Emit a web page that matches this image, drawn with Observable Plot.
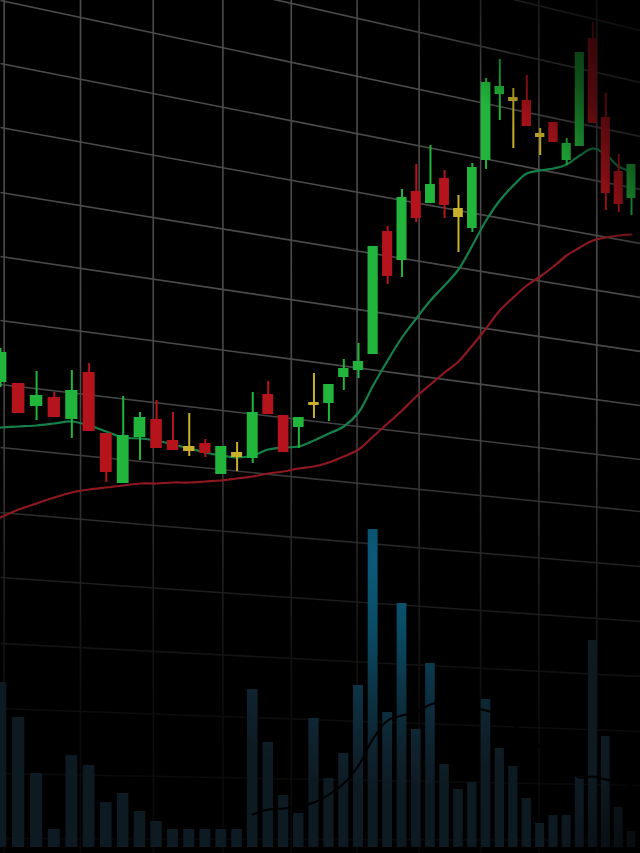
<!DOCTYPE html>
<html><head><meta charset="utf-8">
<script src="https://cdn.jsdelivr.net/npm/d3@7"></script>
<script src="https://cdn.jsdelivr.net/npm/@observablehq/plot@0.6"></script>
<style>
html,body{margin:0;padding:0;background:#000;}
#wrap{position:relative;width:640px;height:853px;overflow:hidden;background:#000;}
#wrap svg{position:absolute;left:0;top:0;}
#vignette{position:absolute;left:0;top:0;width:640px;height:853px;pointer-events:none;
 background: radial-gradient(700px circle at 150px 500px, rgba(0,0,0,0) 74%, rgba(0,0,0,0.55) 85%, rgba(0,0,0,0.9) 100%);}
</style></head><body><div id="wrap"></div>
<script>
// ---- data ----
const opens  = [103.6,103.4,98.8,100.6,96.2,105.6,93.4,83.4,92.6,96.2,92,90.8,91.4,85.2,89.6,88.4,101.2,97,94.6,99,99.4,104.6,106,109.2,133.8,128,141.8,139.4,144.4,136.6,134.4,148,161.2,159.8,160,153.4,155.6,148,150.8,172.4,156.6,145.8,140.4];
const closes = [109.6,97.4,101,96.6,102,93.8,85.6,93,96.6,90.4,90,89.8,89.4,90.8,88.6,97.6,97.2,89.6,96.6,99.6,103.2,106.4,107.8,130.8,124.8,140.6,136.4,143.2,139,138.4,146.6,163.6,162.8,160.6,154.8,152.6,151.6,151.4,169.6,155.4,141.4,139.2,147.2];
const highs  = [110.4,103.4,105.8,101.6,106,107.4,93.4,100.8,97.6,100,97.6,97.4,92.2,90.8,91.6,101.6,103.8,97,96.6,105.4,103.2,108.2,111.4,130.8,134.8,142.2,147.2,151,146,141,147.4,164.4,168.2,162.4,165,154.4,155.6,152.4,169.6,175.6,161.4,149.2,147.2];
const lows   = [102.6,97.4,96,96.6,92.4,93.8,83.6,83.4,88,90.4,90,88.8,88.6,85.2,85.8,87.4,97.2,89.6,90.4,96.4,95.8,102,104.4,109.2,123.2,124.6,135.6,139.4,136.4,129.6,133.6,146.2,156,150.4,154.8,149,151.6,147,150.8,155.4,138,137.6,137];
const dirs   = ["up","down","up","down","up","down","down","up","up","down","down","flat","down","up","flat","up","down","down","up","flat","up","up","up","up","down","up","down","up","down","flat","up","up","up","flat","down","flat","down","up","up","down","down","down","up"];
const volumes= [1650,1300,740,180,920,820,450,540,360,260,180,180,180,180,180,1580,1050,520,340,1290,690,940,1620,3180,1350,2440,1180,1840,830,580,650,1480,990,810,490,240,320,320,710,2070,1110,400,160];
const maFast = [94.6,94.8,95,95.4,95.8,95,93.8,92.6,92.4,92,91.2,90.4,89.6,89,88.6,89,90.2,90.6,90.8,92,93.4,94.8,97.6,103,108,112.6,116.4,120,123,126.2,131,136,140,143,145.4,146,146.4,147.2,149,150.4,149.2,146.8,145.8];
const maSlow = [76.6,78.2,79.4,80.6,81.6,82.2,82.6,83,83.4,83.4,83.6,83.6,83.8,84,84.4,84.8,85.4,85.8,86.4,86.8,87.6,88.8,90.2,92.8,95.4,98,100.8,103.2,105.6,107.8,111,114.4,118,120.6,123,124.8,126.8,129,130.6,132,132.6,133,133.2];
const volMA  = [null,null,null,null,null,null,null,null,null,null,null,null,null,null,null,330,380,390,410,450,530,640,820,1090,1270,1320,1350,1430,1450,1420,1390,1370,1320,1230,1120,1000,900,780,700,710,680,650,620];
// grid: vertical lines (in candle units), horizontal lines (price at left edge / right edge)
const vGrid      = [0.2,4.5,8.8,13.1,17.5,21.9,26.2,30.6,34.9,39.3];
const hGridLeft  = [205.2,192.6,180,167.4,154.6,141.6,128.8,116,103.2,90.6,77.6,64.6,51.4,38.4,25.4,12.4];
const hGridRight = [174,163.6,152.8,142.2,131.4,120.6,109.8,99,88.2,77.8,66.8,55.8,44.8,33.8,23,12];

// ---- build ----
const X0 = 40; // perspective offset for the pow x scale
const candles = opens.map((o, i) => ({
  x: i + X0, open: o, close: closes[i], high: highs[i], low: lows[i], dir: dirs[i],
  vol: volumes[i], fast: maFast[i], slow: maSlow[i], volMA: volMA[i]
}));
const xDomain = [X0, X0 + 42], xRange = [0, 631];
const xInv = d3.scalePow().exponent(0.5).domain(xDomain).range(xRange);
const xLeft = xInv.invert(0), xRight = xInv.invert(640);
const hGrid = hGridLeft.map((l, k) => ({x1: xLeft, y1: l, x2: xRight, y2: hGridRight[k]}));
const xScale = () => ({type: "pow", exponent: 0.5, domain: xDomain, range: xRange, axis: null});

const price = Plot.plot({
  width: 640, height: 853, margin: 0,
  x: xScale(),
  y: {domain: [9.4, 180], axis: null},
  color: {domain: ["up", "down", "flat"], range: ["#21b63b", "#b5141c", "#c8b02a"]},
  style: {background: "#000", overflow: "hidden"},
  marks: [
    Plot.ruleX(vGrid, {x: d => d + X0, stroke: "url(#gridFade)", strokeWidth: 1.6}),
    Plot.link(hGrid, {x1: "x1", y1: "y1", x2: "x2", y2: "y2", stroke: "url(#gridFade)", strokeWidth: 1.6}),
    Plot.line(candles, {x: "x", y: "slow", stroke: "#8e1820", strokeWidth: 2.2, curve: "catmull-rom"}),
    Plot.line(candles, {x: "x", y: "fast", stroke: "#15804a", strokeWidth: 2.2, curve: "catmull-rom"}),
    Plot.ruleX(candles, {x: "x", y1: "low", y2: "high", stroke: "dir", strokeWidth: 2}),
    Plot.rect(candles, {x1: d => d.x - 0.35, x2: d => d.x + 0.35, y1: "open", y2: "close", fill: "dir"})
  ]
});

const volume = Plot.plot({
  width: 640, height: 853, marginTop: 0, marginLeft: 0, marginRight: 0, marginBottom: 6,
  x: xScale(),
  y: {domain: [0, 8470], axis: null},
  style: {background: "transparent", overflow: "hidden"},
  marks: [
    Plot.rect(candles, {x1: d => d.x - 0.34, x2: d => d.x + 0.34, y1: 0, y2: "vol", fill: "url(#volGlow)"}),
    Plot.line(candles, {x: "x", y: "volMA", stroke: "#000", strokeWidth: 2, curve: "catmull-rom"})
  ]
});

// gradients
{
  const defs = d3.select(price).insert("defs", ":first-child");
  const g = defs.append("linearGradient").attr("id", "gridFade")
    .attr("gradientUnits", "userSpaceOnUse").attr("x1", 0).attr("y1", 0).attr("x2", 0).attr("y2", 853);
  [[0, "#4c4c4c"], [0.45, "#4a4a4a"], [0.53, "#3e3e3e"], [0.6, "#2e2e2e"], [0.68, "#1f1f1f"], [0.75, "#151515"], [0.82, "#0d0d0d"], [1, "#080808"]]
    .forEach(([o, c]) => g.append("stop").attr("offset", o).attr("stop-color", c));
}
{
  const defs = d3.select(volume).insert("defs", ":first-child");
  const g = defs.append("radialGradient").attr("id", "volGlow")
    .attr("gradientUnits", "userSpaceOnUse").attr("cx", 385).attr("cy", 560).attr("r", 230);
  [[0, "#0b5c7a"], [0.3, "#0a4c66"], [0.55, "#0c3547"], [0.8, "#0e2430"], [1, "#0e1a22"]]
    .forEach(([o, c]) => g.append("stop").attr("offset", o).attr("stop-color", c));
}

const wrap = document.getElementById("wrap");
wrap.appendChild(price);
wrap.appendChild(volume);
const vig = document.createElement("div");
vig.id = "vignette";
wrap.appendChild(vig);
</script>
</body></html>
